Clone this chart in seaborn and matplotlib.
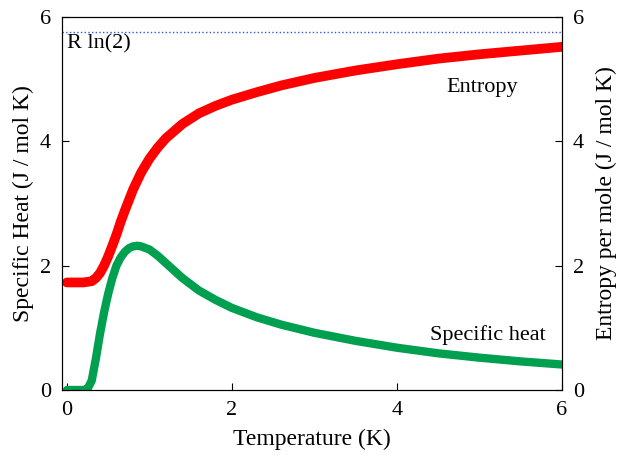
import matplotlib
matplotlib.use("Agg")
import matplotlib.pyplot as plt
import seaborn as sns
import pandas as pd

temp_s = [0.0, 0.1, 0.2, 0.3, 0.35, 0.4, 0.45, 0.5, 0.55, 0.6, 0.65, 0.7, 0.75, 0.8, 0.9,
          1.0, 1.1, 1.2, 1.4, 1.6, 1.8, 2.0, 2.3, 2.6, 3.0, 3.5, 4.0, 4.5, 5.0, 5.5, 6.0]
entropy = [1.73, 1.73, 1.73, 1.75, 1.80, 1.88, 2.00, 2.15, 2.32, 2.50, 2.70, 2.88, 3.05, 3.22, 3.50,
           3.72, 3.90, 4.05, 4.28, 4.45, 4.57, 4.67, 4.79, 4.90, 5.02, 5.14, 5.24, 5.33, 5.40, 5.46, 5.52]

temp_c = [0.0, 0.1, 0.2, 0.25, 0.3, 0.35, 0.4, 0.45, 0.5, 0.55, 0.6, 0.65, 0.7, 0.75, 0.8, 0.85,
          0.9, 1.0, 1.1, 1.2, 1.4, 1.6, 1.8, 2.0, 2.3, 2.6, 3.0, 3.5, 4.0, 4.5, 5.0, 5.5, 6.0]
heat = [0.0, 0.0, 0.0, 0.02, 0.15, 0.50, 0.90, 1.25, 1.55, 1.80, 2.00, 2.13, 2.22, 2.28, 2.31, 2.32,
        2.31, 2.26, 2.16, 2.04, 1.80, 1.60, 1.45, 1.32, 1.17, 1.05, 0.92, 0.79, 0.68, 0.59, 0.52, 0.46, 0.41]

r_ln2 = 5.763

plt.rcParams["font.family"] = ["Liberation Serif", "DejaVu Serif"]
fig = plt.figure(figsize=(6.25, 4.59), dpi=100)
ax = fig.add_axes([62 / 625, 1 - 390 / 459, 500 / 625, 373 / 459])

ds = pd.DataFrame({"T": temp_s, "S": entropy})
dc = pd.DataFrame({"T": temp_c, "C": heat})
red = "#ff0000"
green = "#00a050"
sns.lineplot(data=ds, x="T", y="S", ax=ax, color=red, lw=7, solid_capstyle="round")
sns.lineplot(data=dc, x="T", y="C", ax=ax, color=green, lw=6, solid_capstyle="round")
ax.axhline(r_ln2, color="#3050ff", ls=":", lw=1)

ax.set_xlim(-0.06, 6)
ax.set_ylim(0, 6)
ax.set_xticks([0, 2, 4, 6])
ax.set_yticks([0, 2, 4, 6])
ax.tick_params(direction="in", labelsize=16, length=5, pad=8)
ax.set_xlabel("Temperature (K)", fontsize=17, labelpad=6)
ax.set_ylabel("Specific Heat (J / mol K)", fontsize=17)

ax2 = ax.twinx()
ax2.set_ylim(0, 6)
ax2.set_yticks([0, 2, 4, 6])
ax2.tick_params(direction="in", labelsize=16, length=5, pad=8)
ax2.set_ylabel("Entropy per mole (J / mol K)", fontsize=17, labelpad=8)

ax.text(0.0, 5.5, "R ln(2)", fontsize=16)
ax.text(4.6, 4.8, "Entropy", fontsize=16)
ax.text(4.4, 0.8, "Specific heat", fontsize=16)

fig.savefig("out.png", dpi=100)
